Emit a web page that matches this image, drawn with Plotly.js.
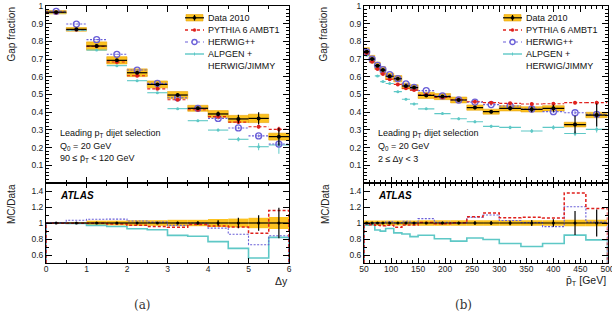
<!DOCTYPE html>
<html><head><meta charset="utf-8">
<script src="https://cdn.plot.ly/plotly-3.0.1.min.js"></script>
<style>html,body{margin:0;padding:0;background:#fff}#chart{width:612px;height:315px}</style>
</head><body><div id="chart"></div>
<script>
// ---------- data: panel (a), gap fraction vs Δy ----------
const dyEdges = [0,0.5,1,1.5,2,2.5,3,3.5,4,4.5,5,5.5,6];
const dataL   = [0.965,0.868,0.774,0.693,0.623,0.557,0.497,0.422,0.390,0.362,0.365,0.262];
const statL   = [0.002,0.003,0.004,0.005,0.006,0.007,0.008,0.009,0.014,0.024,0.035,0.050];
const sysRelL = [0.010,0.012,0.030,0.030,0.035,0.035,0.040,0.040,0.050,0.055,0.065,0.075];
const pythiaL = [0.963,0.866,0.772,0.684,0.606,0.532,0.470,0.414,0.375,0.344,0.318,0.303];
const herwigL = [0.970,0.898,0.810,0.727,0.638,0.563,0.482,0.422,0.365,0.311,0.266,0.220];
const alpgenL = [0.962,0.862,0.751,0.663,0.578,0.510,0.420,0.352,0.299,0.247,0.205,0.215];
const pythiaErrL = [0.002,0.002,0.003,0.003,0.004,0.004,0.005,0.005,0.006,0.008,0.010,0.015];
const herwigErrL = [0.002,0.002,0.003,0.003,0.004,0.004,0.005,0.005,0.006,0.007,0.008,0.010];
const alpgenErrL = [0.002,0.002,0.003,0.003,0.004,0.004,0.005,0.006,0.008,0.012,0.020,0.050];

// ---------- data: panel (b), gap fraction vs mean pT ----------
const ptEdges = [50,60,70,80,90,105,120,135,150,180,210,240,270,300,340,380,420,460,500];
const dataR   = [0.742,0.700,0.663,0.638,0.603,0.589,0.548,0.539,0.495,0.488,0.469,0.426,0.403,0.422,0.416,0.422,0.330,0.384];
const statR   = [0.003,0.003,0.004,0.004,0.005,0.005,0.006,0.006,0.006,0.007,0.008,0.009,0.010,0.012,0.016,0.020,0.050,0.065];
const sysRelR = [0.030,0.030,0.030,0.030,0.030,0.030,0.030,0.030,0.035,0.035,0.035,0.035,0.035,0.035,0.035,0.035,0.040,0.040];
const pythiaR = [0.735,0.685,0.644,0.616,0.586,0.557,0.535,0.525,0.498,0.484,0.470,0.459,0.454,0.450,0.446,0.448,0.454,0.454];
const herwigR = [0.740,0.700,0.665,0.640,0.612,0.590,0.560,0.540,0.522,0.492,0.469,0.457,0.443,0.435,0.418,0.403,0.397,0.388];
const alpgenR = [0.722,0.685,0.605,0.573,0.562,0.516,0.473,0.447,0.419,0.392,0.363,0.346,0.320,0.314,0.294,0.314,0.280,0.303];
const pythiaErrR = [0.002,0.002,0.002,0.003,0.003,0.003,0.004,0.004,0.004,0.005,0.005,0.006,0.006,0.007,0.008,0.008,0.009,0.010];
const herwigErrR = [0.002,0.002,0.002,0.003,0.003,0.003,0.004,0.004,0.004,0.005,0.005,0.006,0.006,0.007,0.008,0.008,0.009,0.010];
const alpgenErrR = [0.003,0.003,0.004,0.004,0.004,0.005,0.005,0.006,0.006,0.007,0.008,0.008,0.009,0.010,0.011,0.012,0.015,0.018];

const tickMain = [0.1,0.2,0.3,0.4,0.5,0.6,0.7,0.8,0.9,1];
const tickMainTxt = ['0.1','0.2','0.3','0.4','0.5','0.6','0.7','0.8','0.9','1'];
const tickRatio = [0.6,0.8,1,1.2,1.4];
const tickRatioTxt = ['0.6','0.8','1','1.2','1.4'];

// ---------- styling ----------
const YEL = '#fcc21f', YEL_EDGE = '#e9a60f';
const RED = '#e0201c', BLUE = '#6a5fd8', CYAN = '#5ec8c6';
const FONT = 'Liberation Sans, Arial, sans-serif';

const W = 612, H = 315;
const px = x => x / W, py = y => 1 - y / H;

function mids(e){ const m=[]; for(let i=0;i<e.length-1;i++) m.push((e[i]+e[i+1])/2); return m; }
function widths(e){ const w=[]; for(let i=0;i<e.length-1;i++) w.push(e[i+1]-e[i]); return w; }
function half(e){ return widths(e).map(v=>v/2); }

function segs(edges, vals){
  const x=[], y=[];
  for(let i=0;i<vals.length;i++){ x.push(edges[i],edges[i+1],null); y.push(vals[i],vals[i],null); }
  return {x,y};
}
function stepRatio(edges, mc, data){
  const r = mc.map((v,i)=>v/data[i]);
  const x=[edges[0],edges[0]], y=[0,r[0]];
  for(let i=1;i<r.length;i++){ x.push(edges[i]); y.push(r[i]); }
  x.push(edges[edges.length-1], edges[edges.length-1]);
  y.push(r[r.length-1], 0);
  return {x,y};
}

const traces = [];
function panel(edges, data, stat, sysRel, mcs, xa, ya, xr, yr){
  const c = mids(edges), w = widths(edges), h = half(edges);
  const sys = data.map((d,i)=>d*sysRel[i]);
  traces.push({type:'bar', x:c, y:sys.map(s=>2*s), base:data.map((d,i)=>d-sys[i]), width:w,
    marker:{color:YEL, line:{color:YEL_EDGE, width:0.6}}, xaxis:xa, yaxis:ya, hoverinfo:'skip', showlegend:false});
  traces.push({type:'bar', x:c, y:sysRel.map(s=>2*s), base:sysRel.map(s=>1-s), width:w,
    marker:{color:YEL, line:{width:0}}, xaxis:xr, yaxis:yr, hoverinfo:'skip', showlegend:false});
  mcs.forEach(m=>{
    const s = segs(edges, m.v);
    traces.push({type:'scatter', mode:'lines', x:s.x, y:s.y, line:{color:m.color, width:1.1, dash:m.dash},
      xaxis:xa, yaxis:ya, hoverinfo:'skip', showlegend:false});
    traces.push({type:'scatter', mode:'markers', x:c, y:m.v, marker:m.marker,
      error_y:{type:'data', array:m.err, width:0, thickness:1, color:m.color},
      xaxis:xa, yaxis:ya, hoverinfo:'skip', showlegend:false});
    const st = stepRatio(edges, m.v, data);
    traces.push({type:'scatter', mode:'lines', x:st.x, y:st.y, line:{color:m.color, width:m.rw, dash:m.dash, shape:'hv'},
      xaxis:xr, yaxis:yr, hoverinfo:'skip', showlegend:false});
  });
  traces.push({type:'scatter', mode:'markers', x:c, y:data, marker:{color:'#000', size:4},
    error_y:{type:'data', array:stat, width:0, thickness:1.2, color:'#000'},
    error_x:{type:'data', array:h, width:0, thickness:1.2, color:'#000'},
    xaxis:xa, yaxis:ya, hoverinfo:'skip', showlegend:false});
  traces.push({type:'scatter', mode:'markers', x:c, y:data.map(d=>d/d), marker:{color:'#000', size:3},
    error_y:{type:'data', array:stat.map((s,i)=>s/data[i]), width:0, thickness:1.2, color:'#000'},
    error_x:{type:'data', array:h, width:0, thickness:1.2, color:'#000'},
    xaxis:xr, yaxis:yr, hoverinfo:'skip', showlegend:false});
}

function mcList(p,hw,a,pe,he,ae){
  return [
    {v:a, err:ae, color:CYAN, dash:'solid', rw:1.6, marker:{color:CYAN, size:3, symbol:'circle'}},
    {v:hw, err:he, color:BLUE, dash:'2px,1.5px', rw:1.1, marker:{color:BLUE, size:6, symbol:'circle-open', line:{width:1.3, color:BLUE}}},
    {v:p, err:pe, color:RED, dash:'3px,2px', rw:1.5, marker:{color:RED, size:4, symbol:'circle'}}
  ];
}
panel(dyEdges, dataL, statL, sysRelL, mcList(pythiaL,herwigL,alpgenL,pythiaErrL,herwigErrL,alpgenErrL), 'x','y','x2','y2');
panel(ptEdges, dataR, statR, sysRelR, mcList(pythiaR,herwigR,alpgenR,pythiaErrR,herwigErrR,alpgenErrR), 'x3','y3','x4','y4');

const base = {showline:true, linecolor:'#000', linewidth:1, mirror:'ticks', ticks:'inside', ticklen:6, tickwidth:1,
  tickcolor:'#000', zeroline:false, showgrid:false, ticklabeloverflow:'allow',
  tickfont:{family:FONT, size:8.5, color:'#222'}};
const domL = [46/W, 289/W], domR = [364/W, 607.5/W];
const domMain = [py(183), py(6)], domRat = [py(263), py(183)];

const layout = {
  width:W, height:H, autosize:false, margin:{l:0,r:0,t:0,b:0}, paper_bgcolor:'#fff', plot_bgcolor:'#fff',
  barmode:'overlay', showlegend:false, hovermode:false,
  xaxis: Object.assign({}, base, {domain:domL, anchor:'y', range:[0,6], dtick:1, tick0:0, showticklabels:false,
    minor:{ticks:'inside', ticklen:3, dtick:0.5, tickcolor:'#000'}}),
  yaxis: Object.assign({}, base, {domain:domMain, anchor:'x', range:[0,1], tickmode:'array', tickvals:tickMain, ticktext:tickMainTxt,
    minor:{ticks:'inside', ticklen:3, dtick:0.02, tick0:0, tickcolor:'#000'}}),
  xaxis2: Object.assign({}, base, {domain:domL, anchor:'y2', range:[0,6], dtick:1, tick0:0, ticklen:5, ticklabelstandoff:-2,
    minor:{ticks:'inside', ticklen:3, dtick:0.5, tickcolor:'#000'}}),
  yaxis2: Object.assign({}, base, {domain:domRat, anchor:'x2', range:[0.5,1.5], tickmode:'array', tickvals:tickRatio, ticktext:tickRatioTxt,
    minor:{ticks:'inside', ticklen:3, dtick:0.1, tick0:0.5, tickcolor:'#000'}}),
  xaxis3: Object.assign({}, base, {domain:domR, anchor:'y3', range:[50,500], dtick:50, tick0:50, showticklabels:false,
    minor:{ticks:'inside', ticklen:3, dtick:10, tick0:50, tickcolor:'#000'}}),
  yaxis3: Object.assign({}, base, {domain:domMain, anchor:'x3', range:[0,1], tickmode:'array', tickvals:tickMain, ticktext:tickMainTxt,
    minor:{ticks:'inside', ticklen:3, dtick:0.02, tick0:0, tickcolor:'#000'}}),
  xaxis4: Object.assign({}, base, {domain:domR, anchor:'y4', range:[50,500.001], dtick:50, tick0:50, ticklen:5, ticklabelstandoff:-2,
    minor:{ticks:'inside', ticklen:3, dtick:10, tick0:50, tickcolor:'#000'}}),
  yaxis4: Object.assign({}, base, {domain:domRat, anchor:'x4', range:[0.5,1.5], tickmode:'array', tickvals:tickRatio, ticktext:tickRatioTxt,
    minor:{ticks:'inside', ticklen:3, dtick:0.1, tick0:0.5, tickcolor:'#000'}}),
  shapes:[], annotations:[]
};

function ann(x,y,text,opt){
  layout.annotations.push(Object.assign({xref:'paper', yref:'paper', x:px(x), y:py(y), text:text, showarrow:false,
    xanchor:'left', yanchor:'middle', font:{family:FONT, size:9, color:'#111'}}, opt||{}));
}
function legend(ox, tx){
  const S = layout.shapes;
  const P = (o)=>Object.assign({xref:'paper', yref:'paper'}, o);
  S.push(P({type:'rect', x0:px(ox+1), x1:px(ox+18), y0:py(21), y1:py(14.5), fillcolor:YEL, line:{color:YEL_EDGE, width:0.6}}));
  S.push(P({type:'line', x0:px(ox), x1:px(ox+19), y0:py(17.8), y1:py(17.8), line:{color:'#000', width:1.2}}));
  S.push(P({type:'line', x0:px(ox+9.5), x1:px(ox+9.5), y0:py(15), y1:py(20.6), line:{color:'#000', width:1.2}}));
  S.push(P({type:'circle', x0:px(ox+8), x1:px(ox+11), y0:py(19.3), y1:py(16.3), fillcolor:'#000', line:{color:'#000', width:0.5}}));
  S.push(P({type:'line', x0:px(ox), x1:px(ox+19), y0:py(30), y1:py(30), line:{color:RED, width:1.3, dash:'dot'}}));
  S.push(P({type:'circle', x0:px(ox+8), x1:px(ox+11), y0:py(31.5), y1:py(28.5), fillcolor:RED, line:{color:RED, width:0.5}}));
  S.push(P({type:'line', x0:px(ox), x1:px(ox+19), y0:py(42), y1:py(42), line:{color:BLUE, width:1.1, dash:'dot'}}));
  S.push(P({type:'circle', x0:px(ox+7), x1:px(ox+12), y0:py(44.5), y1:py(39.5), fillcolor:'#fff', line:{color:BLUE, width:1.3}}));
  S.push(P({type:'line', x0:px(ox), x1:px(ox+19), y0:py(54), y1:py(54), line:{color:CYAN, width:1.4}}));
  S.push(P({type:'line', x0:px(ox+9.5), x1:px(ox+9.5), y0:py(52.5), y1:py(55.5), line:{color:CYAN, width:1}}));
  ann(tx, 17.8, 'Data 2010');
  ann(tx, 30, 'PYTHIA 6 AMBT1');
  ann(tx, 42, 'HERWIG++');
  ann(tx, 54, 'ALPGEN +');
  ann(tx, 66, 'HERWIG/JIMMY');
}
legend(185, 206);
legend(503, 524);

ann(58, 133, 'Leading p<sub>T</sub> dijet selection');
ann(58, 146, 'Q<sub>0</sub> = 20 GeV');
ann(58, 158.5, '90 \u2264 p\u0304<sub>T</sub> &lt; 120 GeV');
ann(376, 133, 'Leading p<sub>T</sub> dijet selection');
ann(376, 146, 'Q<sub>0</sub> = 20 GeV');
ann(376, 158.5, '2 \u2264 \u0394y &lt; 3');
ann(58, 195, '<b><i>ATLAS</i></b>', {font:{family:FONT, size:10, color:'#000'}});
ann(376, 195, '<b><i>ATLAS</i></b>', {font:{family:FONT, size:10, color:'#000'}});
const tf = {family:FONT, size:10, color:'#222'};
ann(11, 34.5, 'Gap fraction', {textangle:-90, xanchor:'center', font:tf});
ann(11, 204, 'MC/Data', {textangle:-90, xanchor:'center', font:tf});
ann(323, 34.5, 'Gap fraction', {textangle:-90, xanchor:'center', font:tf});
ann(325, 204, 'MC/Data', {textangle:-90, xanchor:'center', font:tf});
ann(290, 280.5, '\u0394y', {xanchor:'right', font:{family:FONT, size:10.5, color:'#222'}});
ann(608, 280.5, 'p\u0304<sub>T</sub> [GeV]', {xanchor:'right', font:{family:FONT, size:10.5, color:'#222'}});
ann(142.5, 305, '(a)', {xanchor:'center', font:{family:'DejaVu Serif, serif', size:12, color:'#333'}});
ann(463.5, 305, '(b)', {xanchor:'center', font:{family:'DejaVu Serif, serif', size:12, color:'#333'}});

Plotly.newPlot('chart', traces, layout, {staticPlot:true, displayModeBar:false});
</script></body></html>
